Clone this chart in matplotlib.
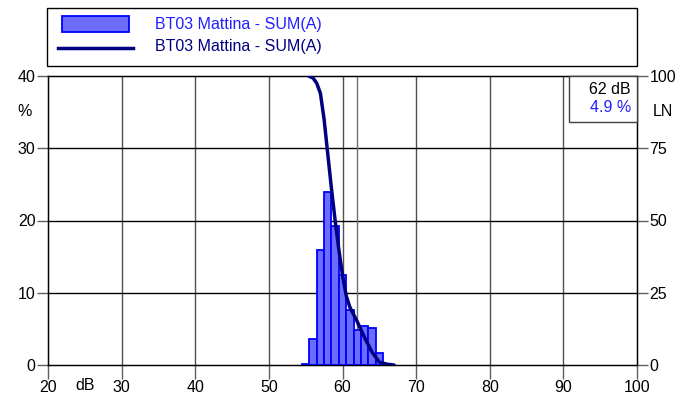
import matplotlib
matplotlib.use("Agg")
import matplotlib.pyplot as plt
from matplotlib.patches import Rectangle
from matplotlib.lines import Line2D

plt.rcParams['font.family'] = ['Liberation Sans', 'DejaVu Sans']
plt.rcParams['font.size'] = 11.5

# Data
levels_db = [55, 56, 57, 58, 59, 60, 61, 62, 63, 64, 65]
dist_pct = [0.2, 3.55, 15.9, 23.9, 19.3, 12.4, 7.6, 4.9, 5.45, 5.1, 1.7]
ln_db = [55.4, 56.0, 56.5, 57.0, 57.5, 58.0, 58.5, 59.0, 59.5, 60.0, 60.5,
         61.0, 62.0, 63.0, 64.0, 65.0, 66.0, 67.0]
ln_pct = [100, 99.3, 97.5, 94, 85, 73, 61, 50, 40, 31, 24, 20, 15, 9.5, 4.5,
          1, 0.3, 0]
series_name = "BT03 Mattina - SUM(A)"
cursor_db = 62
cursor_pct = 4.9

FS = 11.5
fig = plt.figure(figsize=(6.95, 3.98), dpi=100)
ax = fig.add_axes([48/695, 33/398, 589/695, 289/398])
ax.set_xlim(20, 100)
ax.set_ylim(0, 40)

# grid
for v in range(30, 100, 10):
    ax.axvline(v, color='#505050', lw=1.0, zorder=1)
for h in range(10, 40, 10):
    ax.axhline(h, color='black', lw=1.0, zorder=1)
ax.axvline(cursor_db, color='#707070', lw=1.0, zorder=1)

ax.bar(levels_db, dist_pct, width=1.0, facecolor='#6c6cff', edgecolor='#0000ff',
       linewidth=1.3, zorder=3)

ax.set_xticks(range(20, 101, 10))
ax.set_yticks(range(0, 41, 10))
ax.tick_params(axis='both', direction='out', length=8, width=1, color='#606060',
               labelsize=FS, pad=1)
ax.tick_params(axis='x', length=10)
for s in ax.spines.values():
    s.set_color('black')
    s.set_linewidth(1)

ax2 = ax.twinx()
ax2.set_ylim(0, 100)
ax2.set_yticks(range(0, 101, 25))
ax2.tick_params(axis='y', direction='out', length=8, width=1, color='#606060',
                labelsize=FS, pad=1)
ax2.plot(ln_db, ln_pct, color='#000080', lw=2.5, zorder=4, solid_capstyle='round')

fig.text(25/695, 1 - 112/398, '%', ha='center', va='center', fontsize=FS)
fig.text(663/695, 1 - 112/398, 'LN', ha='center', va='center', fontsize=FS)
fig.text(85/695, 1 - 385/398, 'dB', ha='center', va='center', fontsize=FS)

# info box
box = Rectangle((569/695, 1 - 122/398), 68/695, 46/398, transform=fig.transFigure,
                facecolor='white', edgecolor='#404040', lw=1, zorder=10)
fig.add_artist(box)
fig.text(631/695, 1 - 90/398, f'{cursor_db} dB', ha='right', va='center', fontsize=FS, zorder=11)
fig.text(631/695, 1 - 108/398, f'{cursor_pct} %', ha='right', va='center', fontsize=FS,
         color='#2020ff', zorder=11)

# legend box
lbox = Rectangle((47/695, 1 - 66/398), 590/695, 58/398, transform=fig.transFigure,
                 facecolor='white', edgecolor='black', lw=1)
fig.add_artist(lbox)
fig.add_artist(Rectangle((62/695, 1 - 32/398), 67/695, 16/398, transform=fig.transFigure,
                         facecolor='#6c6cff', edgecolor='#0000ff', lw=1.3))
fig.add_artist(Line2D([58/695, 133/695], [1 - 48/398, 1 - 48/398],
                      transform=fig.transFigure, color='#000080', lw=2.5))
fig.text(155/695, 1 - 24/398, series_name, ha='left', va='center', fontsize=FS, color='#2020ff')
fig.text(155/695, 1 - 47/398, series_name, ha='left', va='center', fontsize=FS, color='#000080')

fig.savefig('out.png', dpi=100)
